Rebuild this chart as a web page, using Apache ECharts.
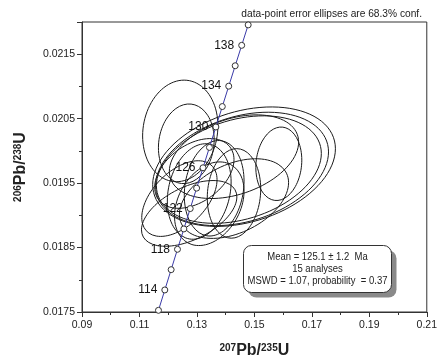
<!DOCTYPE html>
<html><head><meta charset="utf-8">
<script src="https://cdn.jsdelivr.net/npm/echarts@6/dist/echarts.min.js"></script>
<style>html,body{margin:0;padding:0;background:#fff}#c{width:440px;height:364px}</style>
</head><body><div id="c"></div>
<script>
// Concordia reference points (age in Ma, 207Pb/235U, 206Pb/238U)
const concAges = [112,114,116,118,120,122,124,126,128,130,132,134,136,138,140];
const concX = [0.11662,0.11882,0.12102,0.12323,0.12545,0.12767,0.12989,0.13212,0.13435,0.13659,0.13883,0.14107,0.14332,0.14558,0.14784];
const concY = [0.017526,0.017842,0.018157,0.018473,0.018789,0.019105,0.019422,0.019738,0.020054,0.020371,0.020688,0.021004,0.021321,0.021638,0.021955];
const labeledAges = [114,118,122,126,130,134,138];

// Analyses: centre, ellipse half extents, correlation
const ellX   = [0.1242,0.1263,0.1464,0.1457,0.1446,0.1429,0.1585,0.1273,0.1343,0.1308,0.1360,0.1429,0.1291,0.1429,0.1239];
const ellY   = [0.02031,0.02011,0.019755,0.01972,0.01971,0.01991,0.01980,0.01903,0.01918,0.01937,0.01942,0.01934,0.01965,0.01926,0.01926];
const ellSX  = [0.0131,0.0097,0.0318,0.0301,0.0287,0.0225,0.0080,0.0166,0.0121,0.0111,0.0104,0.0093,0.0138,0.0190,0.0131];
const ellSY  = [0.000788,0.000618,0.000927,0.000880,0.000834,0.000649,0.000570,0.000510,0.000649,0.000741,0.000741,0.000695,0.000541,0.000618,0.000587];
const ellRho = [0.1,0.1,0.3,0.3,0.3,0.35,0.1,0.5,0.3,0.2,0.15,0.1,0.4,0.4,0.5];

const xTicks = ['0.09','0.11','0.13','0.15','0.17','0.19','0.21'];
const yTicks = ['0.0175','0.0185','0.0195','0.0205','0.0215'];

function ellipsePts(cx, cy, sx, sy, r) {
  const pts = [];
  const q = Math.sqrt(1 - r * r);
  for (let i = 0; i <= 90; i++) {
    const t = 2 * Math.PI * i / 90;
    pts.push([cx + sx * Math.cos(t), cy + sy * (r * Math.cos(t) + q * Math.sin(t))]);
  }
  return pts;
}

const FONT = 'Liberation Sans, Arial, sans-serif';
const series = [];
for (let i = 0; i < ellX.length; i++) {
  series.push({
    type: 'line', data: ellipsePts(ellX[i], ellY[i], ellSX[i], ellSY[i], ellRho[i]),
    showSymbol: false, smooth: false, silent: true, clip: true, z: 2,
    lineStyle: { color: '#1a1a1a', width: 1 }
  });
}
series.push({
  type: 'line', z: 5, clip: true, silent: true,
  data: concAges.map((a, i) => ({
    value: [concX[i], concY[i]],
    label: labeledAges.includes(a) ? { show: true, formatter: String(a) } : { show: false }
  })),
  symbol: 'circle', symbolSize: 6, showSymbol: true,
  itemStyle: { color: '#fff', borderColor: '#333', borderWidth: 1 },
  lineStyle: { color: '#3a3aa8', width: 1 },
  label: { position: 'left', distance: 4, fontFamily: FONT, fontSize: 12, color: '#111' }
});

const richName = {
  s: { fontFamily: FONT, fontSize: 10, fontWeight: 'bold', color: '#222', verticalAlign: 'top', padding: [0,0,6,0] },
  b: { fontFamily: FONT, fontSize: 16, fontWeight: 'bold', color: '#222' }
};

const chart = echarts.init(document.getElementById('c'), null, { renderer: 'canvas' });
chart.setOption({
  animation: false,
  title: { text: 'data-point error ellipses are 68.3% conf.', right: 13, top: 4,
    textStyle: { fontFamily: FONT, fontSize: 10.2, fontWeight: 'normal', color: '#222' } },
  grid: { left: 82, right: 11, top: 22, bottom: 50, show: true, borderColor: '#333', borderWidth: 1 },
  xAxis: {
    type: 'value', min: 0.09, max: 0.21, interval: 0.02,
    axisLine: { lineStyle: { color: '#333' } },
    axisTick: { inside: false, length: 5, lineStyle: { color: '#333' } },
    minorTick: { show: true, splitNumber: 2, length: 3, lineStyle: { color: '#333' } },
    splitLine: { show: false },
    axisLabel: { fontFamily: FONT, fontSize: 10.5, color: '#222', margin: 8,
      formatter: v => xTicks[Math.round((v - 0.09) / 0.02)] },
    name: '{s|207}{b|Pb/}{s|235}{b|U}', nameLocation: 'middle', nameGap: 31,
    nameTextStyle: { rich: richName }
  },
  yAxis: {
    type: 'value', min: 0.0175, max: 0.022, interval: 0.001,
    axisLine: { lineStyle: { color: '#333' } },
    axisTick: { inside: false, length: 5, lineStyle: { color: '#333' } },
    minorTick: { show: true, splitNumber: 2, length: 3, lineStyle: { color: '#333' } },
    splitLine: { show: false },
    axisLabel: { fontFamily: FONT, fontSize: 10.5, color: '#222', margin: 7, showMaxLabel: false,
      formatter: v => { const k = Math.round((v - 0.0175) / 0.001); return k < yTicks.length && Math.abs(v - (0.0175 + k * 0.001)) < 1e-7 ? yTicks[k] : ''; } },
    name: '{s|206}{b|Pb/}{s|238}{b|U}', nameLocation: 'middle', nameGap: 53, nameRotate: 90,
    nameTextStyle: { rich: richName }
  },
  graphic: [{
    type: 'group', left: 243, top: 245, z: 20, children: [
      { type: 'rect', shape: { x: 5, y: 5, width: 148, height: 47, r: 8 },
        style: { fill: '#8a8a8a', stroke: null } },
      { type: 'rect', shape: { x: 0, y: 0, width: 148, height: 47, r: 8 },
        style: { fill: '#fff', stroke: '#333', lineWidth: 1 } },
      { type: 'text', x: 74, y: 12, scaleX: 0.95, style: { text: 'Mean = 125.1 ± 1.2  Ma', align: 'center', verticalAlign: 'middle', font: '10px ' + FONT, fill: '#222' } },
      { type: 'text', x: 74, y: 24, scaleX: 0.95, style: { text: '15 analyses', align: 'center', verticalAlign: 'middle', font: '10px ' + FONT, fill: '#222' } },
      { type: 'text', x: 74, y: 36, scaleX: 0.95, style: { text: 'MSWD = 1.07, probability  = 0.37', align: 'center', verticalAlign: 'middle', font: '10px ' + FONT, fill: '#222' } }
    ]
  }],
  series: series
});
</script></body></html>
